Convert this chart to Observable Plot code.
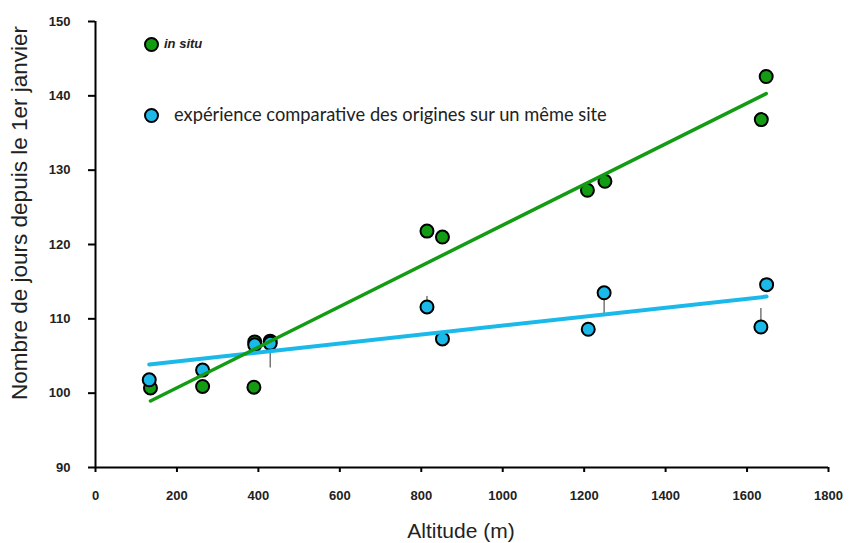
<!DOCTYPE html>
<html><head><meta charset="utf-8">
<script src="https://cdn.jsdelivr.net/npm/d3@7"></script>
<script src="https://cdn.jsdelivr.net/npm/@observablehq/plot@0.6"></script>
<style>
body{margin:0;background:#fff;}
#wrap{position:relative;width:850px;height:543px;}
.lab{position:absolute;font-family:"Liberation Sans";color:#222;white-space:nowrap;}
.dotk{position:absolute;width:15px;height:15px;border:2px solid #000;border-radius:50%;box-sizing:border-box;}
#wrap svg text{font-weight:bold;font-family:"Liberation Sans";font-size:13px !important;}
</style></head><body>
<div id="wrap"></div>
<script>
// in situ (green)
const inSituAlt = [135, 263, 389, 391, 429, 814, 852, 1208, 1251, 1635, 1647];
const inSituDay = [100.7, 100.9, 100.8, 106.9, 107.0, 121.8, 121.0, 127.3, 128.5, 136.8, 142.6];
// expérience comparative (blue)
const compAlt = [132, 263, 391, 429, 814, 852, 1210, 1249, 1634, 1648];
const compDay = [101.8, 103.1, 106.5, 106.7, 111.6, 107.3, 108.6, 113.5, 108.9, 114.6];
// small error bars visible on the comparative points
const errAlt = [429, 814, 1249, 1634];
const errFrom = [106.7, 111.6, 113.5, 108.9];
const errTo = [103.4, 113.0, 110.7, 111.4];
const xTicks = [0, 200, 400, 600, 800, 1000, 1200, 1400, 1600, 1800];
const yTicks = [90, 100, 110, 120, 130, 140, 150];
const legendLabels = ["in situ", "expérience comparative des origines sur un même site"];
const xTitle = "Altitude (m)";
const yTitle = "Nombre de jours depuis le 1er janvier";
const greenC = "#139c13";
const blueC = "#1ab9ea";

const green = inSituAlt.map((a, i) => ({alt: a, day: inSituDay[i]}));
const blue = compAlt.map((a, i) => ({alt: a, day: compDay[i]}));
const errs = errAlt.map((a, i) => ({alt: a, y1: errFrom[i], y2: errTo[i]}));

const chart = Plot.plot({
  width: 850,
  height: 543,
  marginLeft: 95,
  marginRight: 22,
  marginTop: 21,
  marginBottom: 76,
  style: {fontFamily: "'Liberation Sans'", fontSize: "13px", color: "#222", background: "#fff"},
  x: {domain: [0, 1800]},
  y: {domain: [90, 150]},
  marks: [
    Plot.axisX({ticks: xTicks, tickFormat: d3.format("d"), tickSize: 5, tickPadding: 18, strokeWidth: 2, stroke: "#000", fill: "#222", fontSize: 13, label: null}),
    Plot.axisY({ticks: yTicks, tickFormat: d3.format("d"), tickSize: 7, tickPadding: 18, strokeWidth: 2, stroke: "#000", fill: "#222", fontSize: 13, label: null}),
    Plot.ruleX([0], {stroke: "#000", strokeWidth: 2}),
    Plot.ruleY([90], {stroke: "#000", strokeWidth: 2}),
    Plot.ruleX(errs, {x: "alt", y1: "y1", y2: "y2", stroke: "#555", strokeWidth: 1.2}),
    Plot.dot(green, {x: "alt", y: "day", r: 6.5, fill: greenC, stroke: "#000", strokeWidth: 2}),
    Plot.dot(blue, {x: "alt", y: "day", r: 6.5, fill: blueC, stroke: "#000", strokeWidth: 2}),
    Plot.linearRegressionY(blue, {x: "alt", y: "day", stroke: blueC, strokeWidth: 4, ci: 0}),
    Plot.linearRegressionY(green, {x: "alt", y: "day", stroke: greenC, strokeWidth: 3.5, ci: 0})
  ]
});
const wrap = document.getElementById("wrap");
wrap.appendChild(chart);

function addDiv(cls, css, text) {
  const d = document.createElement("div");
  d.className = cls;
  d.style.cssText = css;
  if (text != null) d.textContent = text;
  wrap.appendChild(d);
  return d;
}
// legend
addDiv("dotk", `left:144px;top:37px;background:${greenC};`);
addDiv("lab", "left:164px;top:36px;font-size:13px;font-weight:bold;font-style:italic;", legendLabels[0]);
addDiv("dotk", `left:144px;top:108px;background:${blueC};`);
addDiv("lab", "left:174px;top:103px;font-size:18.3px;font-family:Lato,sans-serif;", legendLabels[1]);
// axis titles
addDiv("lab", "left:461px;top:531px;transform:translate(-50%,-50%);font-size:21px;", xTitle);
addDiv("lab", "left:20px;top:213px;transform:translate(-50%,-50%) rotate(-90deg);font-size:22.5px;", yTitle);
</script>
</body></html>
